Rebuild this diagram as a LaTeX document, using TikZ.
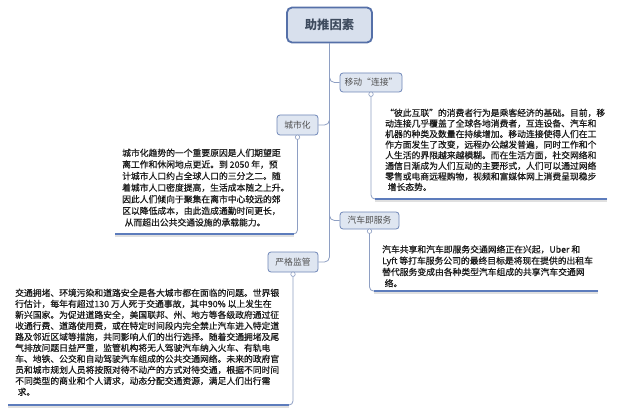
\documentclass[tikz,border=0pt]{standalone}
\usepackage{fontspec}
\setmainfont[FakeBold=0.6]{Noto Sans CJK SC}
\newfontfamily\plainfont{Noto Sans CJK SC}
\usetikzlibrary{calc}
\definecolor{boxfill}{HTML}{DFE6F1}
\definecolor{boxline}{HTML}{6F86B8}
\definecolor{rootfill}{HTML}{D8E0ED}
\definecolor{rootline}{HTML}{5570A8}
\definecolor{conncol}{HTML}{8E9FC3}
\definecolor{ulcol}{HTML}{5D7CBC}
\definecolor{txt}{HTML}{1C1C1C}
\definecolor{boxtxt}{HTML}{4F4F4F}
\definecolor{roottxt}{HTML}{3E4B5E}
\begin{document}
\begin{tikzpicture}[x=1pt,y=-1pt,
 topic/.style={draw=boxline, line width=0.8pt, fill=boxfill, rounded corners=3pt, inner sep=0pt, text=boxtxt, font=\plainfont\fontsize{8.8}{10}\selectfont},
 roottopic/.style={draw=rootline, line width=1.8pt, fill=rootfill, rounded corners=5pt, inner sep=0pt, minimum width=85pt, minimum height=35pt, text=roottxt, font=\plainfont\fontsize{12.3}{14}\selectfont\bfseries},
 conn/.style={draw=conncol, line width=0.8pt, rounded corners=5pt},
 desc/.style={anchor=north west, inner sep=0pt, align=left, text=txt},
 uline/.style={draw=ulcol, line width=1.3pt},
 ushadow/.style={draw=black!12, line width=1.6pt},
 knob/.style={circle, draw=conncol, fill=white, line width=0.6pt, inner sep=0pt, minimum size=4.5pt},
]
\fill[white] (0,0) rectangle (617,414);
\useasboundingbox (0,0) rectangle (617,414);

% topics
\node[roottopic] (root) at (329.5,25) {助推因素};
\node[topic, minimum width=62pt, minimum height=19pt] (mob) at (371,82.5) {移动“连接”};
\node[topic, minimum width=41pt, minimum height=20pt] (city) at (297.5,125) {城市化};
\node[topic, minimum width=59pt, minimum height=17pt] (car) at (369.5,220.5) {汽车即服务};
\node[topic, minimum width=50pt, minimum height=20pt] (reg) at (293,262) {严格监管};

% trunk connectors
\draw[conn] (root.south) |- (mob.west);
\draw[conn] (root.south) |- (city.east);
\draw[conn] (root.south) |- (car.west);
\draw[conn] (root.south) |- (reg.east);

% descriptions
\node[desc, font=\fontsize{8.8}{10.6}\selectfont] (mobtxt) at (385,108.5) {“彼此互联”的消费者行为是乘客经济的基础。目前，移\\动连接几乎覆盖了全球各地消费者，互连设备、汽车和\\机器的种类及数量在持续增加。移动连接使得人们在工\\作方面发生了改变，远程办公越发普遍，同时工作和个\\人生活的界限越来越模糊。而在生活方面，社交网络和\\通信日渐成为人们互动的主要形式，人们可以通过网络\\零售或电商远程购物，视频和富媒体网上消费呈现稳步\\\hspace*{2.5pt}增长态势。};

\node[desc, font=\fontsize{8.8}{11.6}\selectfont] (citytxt) at (122,148.5) {城市化趋势的一个重要原因是人们期望距\\离工作和休闲地点更近。到 2050 年，预\\计城市人口约占全球人口的三分之二。随\\着城市人口密度提高，生活成本随之上升。\\因此人们倾向于聚集在离市中心较远的郊\\区以降低成本，由此造成通勤时间更长，\\\hspace*{2.5pt}从而超出公共交通设施的承载能力。};

\node[desc, font=\fontsize{8.8}{11.3}\selectfont] (cartxt) at (382,245) {汽车共享和汽车即服务交通网络正在兴起，Uber 和\\Lyft 等打车服务公司的最终目标是将现在提供的出租车\\替代服务变成由各种类型汽车组成的共享汽车交通网\\\hspace*{2.5pt}络。};

\node[desc, font=\fontsize{8.8}{11}\selectfont] (regtxt) at (15,288.5) {交通拥堵、环境污染和道路安全是各大城市都在面临的问题。世界银\\行估计，每年有超过130 万人死于交通事故，其中90\% 以上发生在\\新兴国家。为促进道路安全，美国联邦、州、地方等各级政府通过征\\收通行费、道路使用费，或在特定时间段内完全禁止汽车进入特定道\\路及邻近区域等措施，共同影响人们的出行选择。随着交通拥堵及尾\\气排放问题日益严重，监管机构将无人驾驶汽车纳入火车、有轨电\\车、地铁、公交和自动驾驶汽车组成的公共交通网络。未来的政府官\\员和城市规划人员将按照对待不动产的方式对待交通，根据不同时间\\不同类型的商业和个人请求，动态分配交通资源，满足人们出行需\\\hspace*{2.5pt}求。};

% underline brackets
\coordinate (mobend) at (607,199);
\coordinate (cityend) at (115,234);
\coordinate (carend) at (598,291);
\coordinate (regend) at (8,405);

\draw[ushadow] ($(mob.south |- mobend)+(4,1.8)$) -- ($(mobend)+(0,1.8)$);
\draw[ushadow] ($(city.south |- cityend)+(-4,1.8)$) -- ($(cityend)+(0,1.8)$);
\draw[ushadow] ($(car.south |- carend)+(4,1.8)$) -- ($(carend)+(0,1.8)$);
\draw[ushadow] ($(reg.south |- regend)+(-4,1.8)$) -- ($(regend)+(0,1.8)$);

\draw[conn, rounded corners=4pt] (mob.south) |- (mobend);
\draw[conn, rounded corners=4pt] (city.south) |- (cityend);
\draw[conn, rounded corners=4pt] (car.south) |- (carend);
\draw[conn, rounded corners=4pt] (reg.south) |- (regend);

\draw[uline] ($(mob.south |- mobend)+(4,0)$) -- (mobend);
\draw[uline] ($(city.south |- cityend)+(-4,0)$) -- (cityend);
\draw[uline] ($(car.south |- carend)+(4,0)$) -- (carend);
\draw[uline] ($(reg.south |- regend)+(-4,0)$) -- (regend);

\node[knob] (mobk) at ($(mob.south)+(0,1.8)$) {};
\node[knob] (cityk) at ($(city.south)+(0,1.8)$) {};
\node[knob] (cark) at ($(car.south)+(0,1.8)$) {};
\node[knob] (regk) at ($(reg.south)+(0,1.8)$) {};
\end{tikzpicture}
\end{document}
